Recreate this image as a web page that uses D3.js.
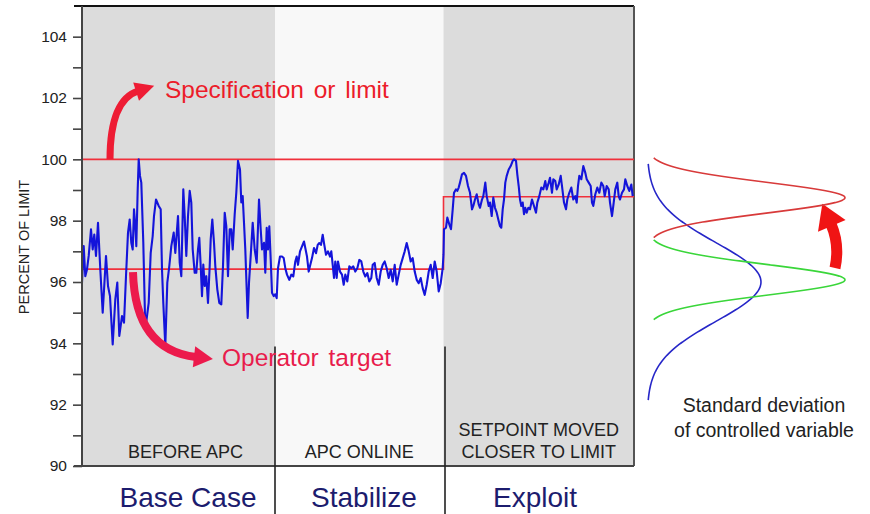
<!DOCTYPE html>
<html>
<head>
<meta charset="utf-8">
<script src="https://cdn.jsdelivr.net/npm/d3@7"></script>
<style>
  html, body { margin: 0; padding: 0; background: #ffffff; }
  svg { display: block; font-family: "Liberation Sans", Arial, Helvetica, sans-serif; }
</style>
</head>
<body>
<svg id="chart" width="870" height="514"></svg>
<script>
// ---------------- data ----------------
const yTickValues = [90, 91, 92, 93, 94, 95, 96, 97, 98, 99, 100, 101, 102, 103, 104];
const yLabelValues = [90, 92, 94, 96, 98, 100, 102, 104];
const yTitle = "PERCENT OF LIMIT";

const phaseBounds = [0, 193, 361.5, 552];          // sample index boundaries
const phaseLabels = [["BEFORE APC"], ["APC ONLINE"], ["SETPOINT MOVED", "CLOSER TO LIMIT"]];
const phaseNames = ["Base Case", "Stabilize", "Exploit"];

const limitValue = 100;
const targetSteps = [[0, 96.42], [361.5, 98.78], [552, 98.78]];

// controlled variable: [sample index, percent of limit]
const series = [
[0,95.98],[1.7,97.17],[3.3,96.19],[5,96.41],[6.7,96.85],[9,97.72],[10.7,97.06],[12.3,97.55],[14,96.85],[16,97.93],
[18.3,96.41],[20.7,95.0],[24,96.85],[26,95.87],[28,95.54],[30.7,93.96],[33.3,95.43],[35.3,95.98],[37.3,94.24],[40,94.89],
[42,94.67],[44,96.19],[46,97.61],[47.7,98.04],[49.3,97.28],[50.7,97.06],[52,98.37],[53.3,97.82],[54.3,97.17],[55.7,99.02],
[56.7,100.0],[58,99.46],[59.3,99.24],[61.3,97.28],[63.3,94.45],[65,94.89],[66.7,95.32],[68.7,96.95],[70.7,97.5],[72,98.15],
[74,98.69],[76.7,98.48],[78.7,98.37],[80,96.41],[81.3,95.32],[83.3,93.91],[85.3,95.98],[87.3,96.52],[89.3,97.17],[91.7,97.61],
[93.3,96.95],[96,98.15],[97.7,96.63],[99.3,96.19],[101.3,99.02],[102.7,98.15],[104.3,96.85],[106,98.15],[107.7,98.97],[109.3,98.59],
[110.7,97.06],[112.7,96.3],[114.3,96.3],[116,97.06],[117.3,97.44],[118.7,96.52],[120,95.54],[121.3,96.57],[122.7,95.87],[124.3,96.19],
[126,95.32],[127.7,96.52],[128.7,97.39],[130.3,98.04],[132,97.28],[133.3,96.52],[135.3,95.76],[137.3,95.32],[139.3,95.27],[141,96.52],
[142.7,98.26],[144.3,97.82],[146,96.19],[147.7,97.72],[149.3,97.72],[150.7,97.06],[152.7,98.21],[154.3,98.91],[156,99.95],[158,99.67],
[159.3,98.59],[160.7,98.8],[162,97.93],[163.3,97.06],[164.7,95.76],[165.7,94.83],[167,95.98],[168.7,96.85],[170.7,97.93],[172.7,97.06],
[174.7,96.63],[177,98.69],[178.7,97.72],[180,97.06],[182,97.28],[183.3,96.3],[184.7,97.77],[186,97.06],[187.3,97.82],[188.7,96.74],
[190,95.65],[191.7,95.54],[193.3,95.6],
[194.7,95.47],[196,96.45],[198,96.83],[200,96.83],[201.7,96.78],[203.3,96.45],[205,96.24],[207.3,96.07],[209.3,96.24],[211.3,96.18],
[213.3,96.67],[214.7,96.83],[216,96.56],[218,97.0],[220,97.16],[222,97.32],[223.3,97.11],[225,96.83],[226.7,96.34],[228.3,96.56],
[230,96.78],[232,97.11],[234,96.94],[235.7,97.21],[237.3,97.27],[239,97.21],[240.7,97.54],[242.3,97.21],[244,96.89],[246,97.0],
[248,96.83],[249.3,97.0],[250.7,96.56],[252,96.13],[253.3,96.67],[254.7,96.13],[256,96.67],[258,96.34],[260,96.24],[261.7,95.91],
[263.3,96.24],[265.3,96.02],[267.3,96.51],[269.3,96.45],[271.3,96.51],[273.3,96.34],[275.3,96.45],[277.3,96.72],[279.3,96.67],[281.3,96.34],
[283.3,96.18],[285.3,96.29],[287.3,96.02],[289.3,96.13],[290.7,96.56],[292.7,96.62],[294.7,96.13],[296.7,95.91],[298.7,96.34],[300.7,96.56],
[302.7,96.67],[304.7,96.45],[306.7,96.13],[308.7,96.4],[310.7,96.02],[312.7,96.56],[314.7,95.91],[316.7,96.24],[318.7,96.56],[320.7,96.78],
[322.7,97.0],[324.7,97.27],[326.7,97.0],[328.7,96.67],[330.7,96.78],[332.7,96.34],[334.7,96.07],[336.7,95.96],[338.7,96.13],[340.7,95.8],
[342.7,95.58],[344.7,95.91],[346.7,96.34],[348.7,96.56],[350.7,96.13],[352.7,96.67],[354.7,96.34],[356.7,95.69],[358.7,95.96],[360.7,96.45],
[361.5,96.9],
[362,97.72],[364,97.77],[365.3,98.1],[367.3,97.88],[369,97.72],[370.7,98.37],[372,98.91],[374,99.02],[375.3,98.97],[376.7,99.08],
[378,99.24],[380,99.51],[382,99.56],[384,99.46],[386,99.13],[388,98.91],[390,98.37],[391.3,98.48],[393,98.69],[394.7,98.86],
[396.7,98.53],[398,98.42],[400,98.69],[401.3,98.8],[403.3,99.24],[404.7,98.8],[406.7,98.48],[408,98.59],[409.7,98.15],[411.3,98.75],
[413,98.42],[414.7,98.26],[416.3,98.04],[418,97.82],[419.3,97.77],[420.7,98.37],[422,98.69],[423.3,99.24],[424.7,99.46],[426.7,99.67],
[428.7,99.78],[430.7,99.95],[432,100.0],[434,99.95],[435.3,99.51],[436.7,99.13],[438,98.69],[439.3,98.48],[440.7,98.59],[442,98.21],
[443.3,98.42],[444.7,98.26],[446.3,98.42],[448,98.37],[450,98.69],[452,98.48],[454,98.26],[455.3,98.59],[457.3,98.8],[459.3,99.08],
[461.3,99.02],[463.3,99.29],[464.7,99.02],[466.7,99.24],[468,99.4],[470,98.91],[471.3,99.35],[473.3,99.29],[474.7,99.02],[476.7,99.18],
[478.7,99.46],[480,99.13],[482,98.59],[484,98.37],[485.3,98.69],[487.3,98.91],[489.3,99.08],[491.3,98.69],[493.3,98.8],[494.7,98.59],
[496,99.13],[497.3,99.46],[499.3,99.35],[501.3,99.78],[503.3,99.56],[504.7,99.35],[506.7,99.24],[508.7,99.13],[510,98.59],[511.3,98.48],
[513.3,98.86],[515.3,99.08],[517.3,98.91],[519.3,99.24],[521.3,99.13],[522.7,98.8],[524.7,99.13],[526.7,99.02],[528,98.59],[530,98.15],
[531.3,98.48],[533.3,99.02],[535.3,99.24],[536.7,98.8],[538,98.69],[540,98.91],[542,99.02],[543.3,99.35],[545.3,99.13],[547.3,98.97],
[549.3,99.18],[550.7,98.8]
];

// distributions of the controlled variable (mean, sigma, relative peak, half-span drawn)
const distNames  = ["Before APC", "APC online", "Setpoint moved"];
const distMeans  = [96.0, 96.07, 98.75];
const distSigmas = [1.28, 0.5, 0.5];
const distPeaks  = [0.57, 0.99, 0.99];
const distSpans  = [3.85, 1.3, 1.3];
const distColors = ["#2626c8", "#3ad63a", "#d83a3a"];

// ---------------- drawing ----------------
const svg = d3.select("#chart");
const x = d3.scaleLinear().domain([0, 552]).range([82, 634]);
const y = d3.scaleLinear().domain([90, 105]).range([466, 6]);
const dx = d3.scaleLinear().domain([0, 1]).range([647, 847]);

const gray = "#dcdcdc", light = "#f8f8f8";
const bgColors = [gray, light, gray];

// phase backgrounds
svg.append("g").selectAll("rect").data(phaseNames).join("rect")
  .attr("x", (d, i) => x(phaseBounds[i]))
  .attr("width", (d, i) => x(phaseBounds[i + 1]) - x(phaseBounds[i]))
  .attr("y", y(105)).attr("height", y(90) - y(105))
  .attr("fill", (d, i) => bgColors[i]);

// frame: top, right, bottom
svg.append("line").attr("x1", 74).attr("x2", x(552)).attr("y1", y(105)).attr("y2", y(105))
  .attr("stroke", "#111").attr("stroke-width", 2);
svg.append("line").attr("x1", x(552)).attr("x2", x(552)).attr("y1", y(105)).attr("y2", y(90))
  .attr("stroke", "#555").attr("stroke-width", 2);
svg.append("line").attr("x1", 74).attr("x2", x(552)).attr("y1", y(90)).attr("y2", y(90))
  .attr("stroke", "#444").attr("stroke-width", 2);

// phase label texts inside plot
const labelG = svg.append("g").attr("fill", "#222").attr("font-size", 18).attr("text-anchor", "middle");
phaseLabels.forEach((lines, i) => {
  const cx = (x(phaseBounds[i]) + x(phaseBounds[i + 1])) / 2 + (i === 0 ? 7 : 0);
  lines.forEach((t, j) => {
    labelG.append("text").attr("x", cx)
      .attr("y", 458 - (lines.length - 1 - j) * 22)
      .text(t);
  });
});

// limit line
svg.append("line").attr("x1", x(0)).attr("x2", x(552)).attr("y1", y(limitValue)).attr("y2", y(limitValue))
  .attr("stroke", "#f0303c").attr("stroke-width", 1.6);

// target line
svg.append("path").datum(targetSteps)
  .attr("d", d3.line().x(d => x(d[0])).y(d => y(d[1])).curve(d3.curveStepAfter))
  .attr("fill", "none").attr("stroke", "#f0303c").attr("stroke-width", 1.6);

// series
svg.append("path").datum(series)
  .attr("d", d3.line().x(d => x(d[0])).y(d => y(d[1])))
  .attr("fill", "none").attr("stroke", "#1414da").attr("stroke-width", 2.1)
  .attr("stroke-linejoin", "round");

// y axis
const yAxis = d3.axisLeft(y).tickValues(yTickValues).tickSize(9).tickPadding(6)
  .tickFormat(d => yLabelValues.includes(d) ? d : "");
const ag = svg.append("g").attr("transform", `translate(${x(0)},0)`).call(yAxis);
ag.select(".domain").remove();
ag.selectAll(".tick line").attr("stroke", "#444").attr("stroke-width", 1.6);
ag.selectAll(".tick text").attr("font-size", 15.5).attr("fill", "#222")
  .attr("font-family", "'Liberation Sans', Arial, sans-serif");
svg.append("line").attr("x1", x(0)).attr("x2", x(0)).attr("y1", y(105)).attr("y2", y(90))
  .attr("stroke", "#444").attr("stroke-width", 2);

svg.append("text").attr("transform", "translate(29,247) rotate(-90)")
  .attr("text-anchor", "middle").attr("font-size", 14.5).attr("fill", "#222").text(yTitle);

// dividers between phases (below plot)
svg.append("g").selectAll("line").data([phaseBounds[1], phaseBounds[2]]).join("line")
  .attr("x1", d => x(d) + (d > 300 ? 1.5 : 0)).attr("x2", d => x(d) + (d > 300 ? 1.5 : 0))
  .attr("y1", y(93.9)).attr("y2", 514)
  .attr("stroke", "#222").attr("stroke-width", 1.6);

// phase names
svg.append("g").selectAll("text").data(phaseNames).join("text")
  .attr("x", (d, i) => [188, 364, 535][i])
  .attr("y", 507)
  .attr("text-anchor", "middle").attr("font-size", 28).attr("fill", "#1c1c6e")
  .text(d => d);

// annotation arrows
const red1 = "#ee1c34", red2 = "#ec1a4c";
function arrow(p0, c, p1, width, color, headLen, headHalf) {
  svg.append("path")
    .attr("d", `M${p0[0]},${p0[1]} Q${c[0]},${c[1]} ${p1[0]},${p1[1]}`)
    .attr("fill", "none").attr("stroke", color).attr("stroke-width", width);
  const vx = p1[0] - c[0], vy = p1[1] - c[1], L = Math.hypot(vx, vy);
  const ux = vx / L, uy = vy / L, px = -uy, py = ux;
  const tip = [p1[0] + ux * headLen, p1[1] + uy * headLen];
  const b1 = [p1[0] + px * headHalf - ux * 2, p1[1] + py * headHalf - uy * 2];
  const b2 = [p1[0] - px * headHalf - ux * 2, p1[1] - py * headHalf - uy * 2];
  svg.append("path").attr("d", `M${tip} L${b1} L${b2} Z`).attr("fill", color);
}
arrow([110, y(limitValue)], [110, 100], [138, 91], 7, red1, 17, 9.5);
arrow([133, y(96.42) + 3], [135, 350], [196, 357], 8, red2, 17, 10.5);
arrow([835, 268], [840, 245], [831, 224], 11, "#f01414", 22, 15);

svg.append("text").attr("x", 165).attr("y", 98).attr("font-size", 24.5).attr("fill", "#ec1c2a")
  .attr("word-spacing", 3).text("Specification or limit");
svg.append("text").attr("x", 222).attr("y", 366).attr("font-size", 24.5).attr("fill", "#e81c4c")
  .attr("word-spacing", 3).text("Operator target");

// distribution curves
distMeans.forEach((m, i) => {
  const s = distSigmas[i];
  const pts = d3.range(-distSpans[i], distSpans[i] + 1e-9, distSpans[i] / 80).map(o => [m + o, distPeaks[i] * Math.exp(-(o * o) / (2 * s * s))]);
  svg.append("path").datum(pts)
    .attr("d", d3.line().x(d => dx(d[1])).y(d => y(d[0])).curve(d3.curveBasis))
    .attr("fill", "none").attr("stroke", distColors[i]).attr("stroke-width", 1.6);
});

svg.append("g").attr("font-size", 19.5).attr("fill", "#222").attr("text-anchor", "middle")
  .selectAll("text").data(["Standard deviation", "of controlled variable"]).join("text")
  .attr("x", 764).attr("y", (d, i) => 412 + i * 25).text(d => d);
</script>
</body>
</html>
